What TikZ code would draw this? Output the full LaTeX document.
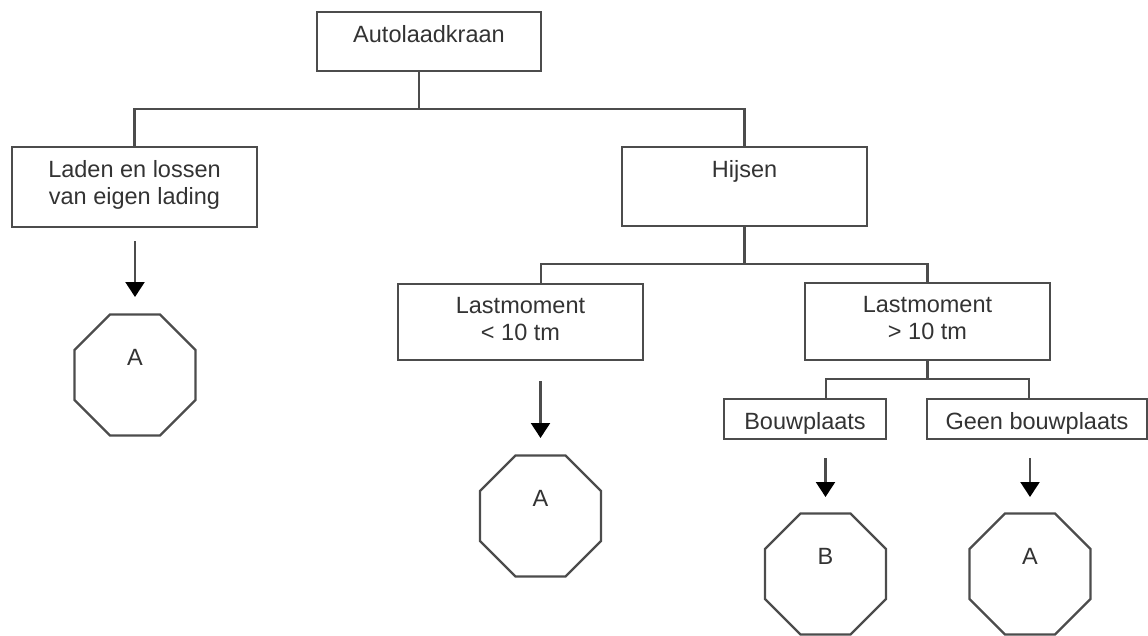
\documentclass[tikz,border=0pt]{standalone}
\usepackage{fontspec}
\setmainfont{Liberation Sans}
\usetikzlibrary{shapes.geometric,arrows.meta,calc}
\begin{document}
\begin{tikzpicture}[x=1pt,y=-1pt,
  line/.style={draw=black!70, line width=2.3pt},
  box/.style={draw=black!70, line width=2.3pt, rectangle, inner sep=0pt},
  txt/.style={anchor=north, inner sep=0pt, yshift=-14.5pt, align=center, text=black!80, font=\fontsize{23.5}{27}\selectfont},
  oct/.style={draw=black!70, line width=2.3pt, regular polygon, regular polygon sides=8, minimum size=131pt, inner sep=0pt},
  otxt/.style={yshift=18pt, inner sep=0pt, text=black!80, font=\fontsize{23.5}{27}\selectfont},
  arr/.style={draw=black!70, line width=2.3pt, -{Triangle[width=19pt,length=15pt,color=black]}}
]
\useasboundingbox (0,0) rectangle (1148,635);

% boxes
\node[box, minimum width=224pt, minimum height=59pt, label={[txt]north:Autolaadkraan}] (AK) at (429,41.5) {};
\node[box, minimum width=245pt, minimum height=80pt, label={[txt]north:{Laden en lossen\\van eigen lading}}] (L) at (134.5,187) {};
\node[box, minimum width=245pt, minimum height=79pt, label={[txt]north:Hijsen}] (H) at (744.5,186.5) {};
\node[box, minimum width=245pt, minimum height=76pt, label={[txt]north:{Lastmoment\\< 10 tm}}] (L10) at (520.5,322) {};
\node[box, minimum width=245pt, minimum height=77pt, label={[txt]north:{Lastmoment\\> 10 tm}}] (G10) at (927.5,321.5) {};
\node[box, minimum width=162pt, minimum height=40pt, label={[txt]north:Bouwplaats}] (BP) at (805,419) {};
\node[box, minimum width=220pt, minimum height=40pt, label={[txt]north:Geen bouwplaats}] (GB) at (1037,419) {};

% octagons
\node[oct, label={[otxt]center:A}] (oA1) at (135,375) {};
\node[oct, label={[otxt]center:A}] (oA2) at (540.5,516) {};
\node[oct, label={[otxt]center:B}] (oB) at (825.5,574) {};
\node[oct, label={[otxt]center:A}] (oA3) at (1030,574) {};

% tree connectors
\coordinate (a0) at (419,71);
\coordinate (j1) at (419,109);
\draw[line] (a0) -- (j1);
\draw[line] (L.north) |- (j1) -| (H.north);

\coordinate (j2) at (744.5,264);
\coordinate (b2) at (541,264);
\coordinate (b3) at (927.5,264);
\draw[line] (H.south) -- (j2);
\draw[line] (b2 |- L10.north) -- (b2) -- (b3) -- (G10.north);

\coordinate (j3) at (927.5,379);
\coordinate (c1) at (826,379);
\coordinate (c2) at (1029,379);
\draw[line] (G10.south) -- (j3);
\draw[line] (c1 |- BP.north) -- (c1) -- (c2) -- (c2 |- GB.north);

% arrows
\draw[arr] ($(oA1.center |- L.south)+(0,13)$) -- ($(oA1.center)+(0,-78)$);
\draw[arr] ($(oA2.center |- L10.south)+(0,20)$) -- ($(oA2.center)+(0,-78)$);
\draw[arr] ($(oB.center |- BP.south)+(0,18)$) -- ($(oB.center)+(0,-77)$);
\draw[arr] ($(oA3.center |- GB.south)+(0,18)$) -- ($(oA3.center)+(0,-77)$);
\end{tikzpicture}
\end{document}
